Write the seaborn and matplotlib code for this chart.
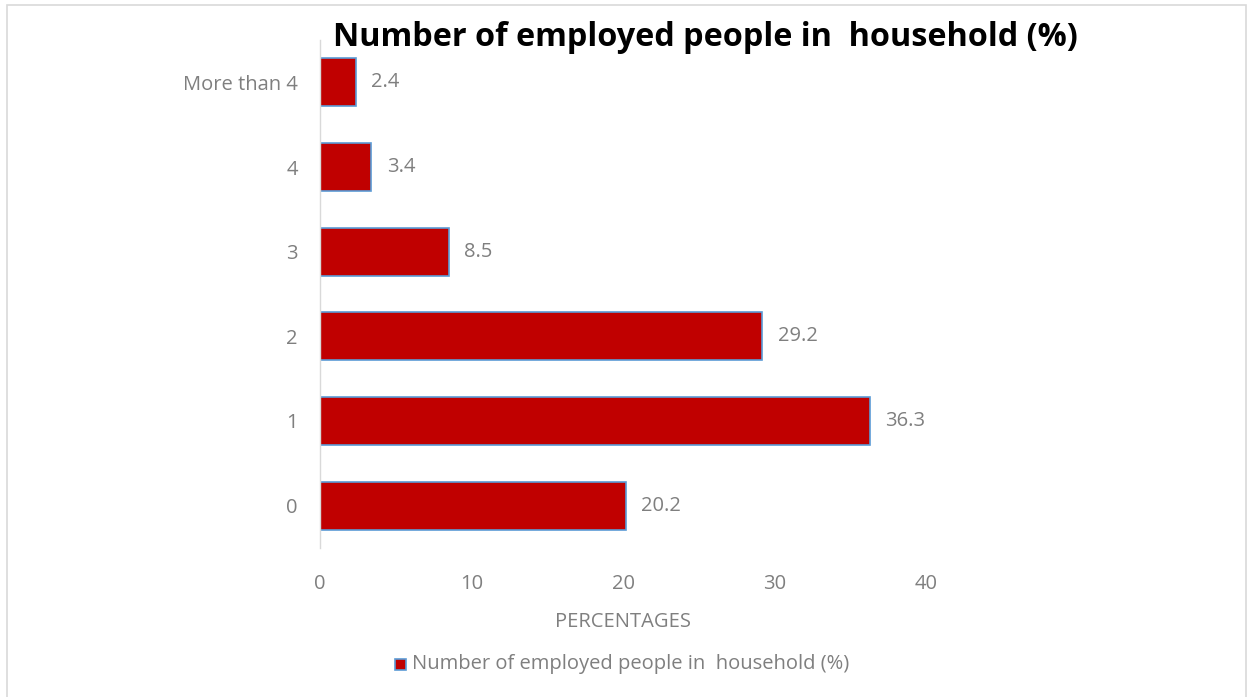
import matplotlib
matplotlib.use("Agg")
import matplotlib.pyplot as plt
import seaborn as sns
import pandas as pd
from matplotlib.patches import Rectangle

# data
categories = ["More than 4", "4", "3", "2", "1", "0"]
values = [2.4, 3.4, 8.5, 29.2, 36.3, 20.2]
x_ticks = [0, 10, 20, 30, 40]
series_name = "Number of employed people in  household (%)"

df = pd.DataFrame({"category": categories, "value": values})

sns.set_style("white")
plt.rcParams["font.family"] = ["Open Sans", "DejaVu Sans"]

gray = "#7f7f7f"
fs = 14.5
fig = plt.figure(figsize=(12.48, 6.97), dpi=100)
ax = fig.add_axes([0.2564, 0.2138, 0.742 - 0.2564, 0.9426 - 0.2138])

sns.barplot(data=df, x="value", y="category", order=categories, color="#C00000",
            edgecolor="#5B9BD5", linewidth=1.2, width=0.57, saturation=1, ax=ax)

for i, v in enumerate(values):
    ax.text(v + 1.0, i, f"{v}", va="center", ha="left", fontsize=fs, color=gray)

ax.set_xlim(0, 40)
ax.set_ylim(5.5, -0.5)
ax.set_xticks(x_ticks)
ax.tick_params(axis="both", length=0, labelsize=fs, labelcolor=gray)
ax.tick_params(axis="y", pad=16)
ax.tick_params(axis="x", pad=19)
ax.set_ylabel("")
ax.set_xlabel("PERCENTAGES", fontsize=fs, color=gray, labelpad=13)
for s in ["top", "right", "bottom"]:
    ax.spines[s].set_visible(False)
ax.spines["left"].set_color("#d9d9d9")
ax.spines["left"].set_linewidth(1)

fig.text(0.565, 1 - 46 / 697, series_name, ha="center", va="baseline",
         fontsize=23.3, fontweight="bold", color="black")

# legend
fig.patches.append(Rectangle((395 / 1248, 1 - 670 / 697), 11 / 1248, 11 / 697,
                             transform=fig.transFigure, facecolor="#C00000",
                             edgecolor="#5B9BD5", linewidth=1.2))
fig.text(412 / 1248, 1 - 664 / 697, series_name, ha="left", va="center",
         fontsize=fs, color=gray)

# outer border
fig.patches.append(Rectangle((7 / 1248, -0.01), 1239 / 1248, 1 - 5 / 697 + 0.01,
                             transform=fig.transFigure, fill=False,
                             edgecolor="#d9d9d9", linewidth=1.2))

fig.savefig("out.png", dpi=100)
